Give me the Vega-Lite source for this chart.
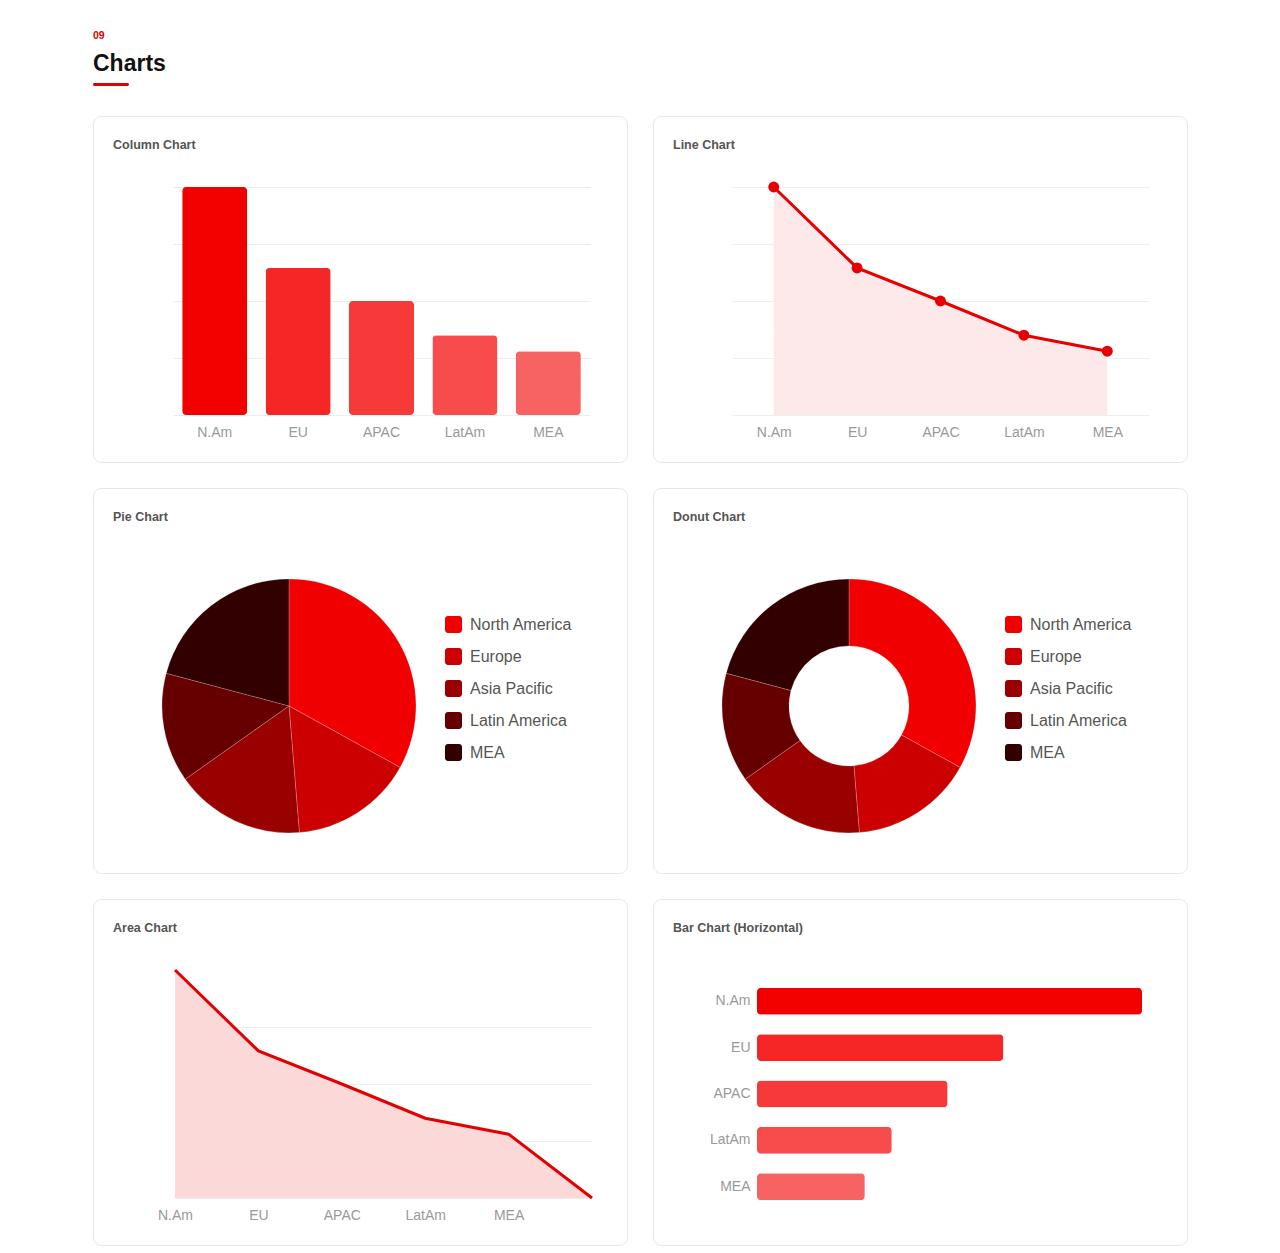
{
  "$schema": "https://vega.github.io/schema/vega-lite/v6.json",
  "background": "white",
  "padding": {"left": 92, "top": 30, "right": 20, "bottom": 4},
  "config": {
    "font": "Liberation Sans",
    "view": {"stroke": "#e8e8e8", "cornerRadius": 8, "fill": "white"},
    "axis": {"labelFont": "Liberation Sans", "labelFontSize": 14, "labelColor": "#999999", "gridColor": "#eeeeee", "gridWidth": 1, "domain": false, "ticks": false, "tickSize": 0, "title": null, "labelAngle": 0},
    "legend": {"labelFont": "Liberation Sans"}
  },
  "spacing": 29,
  "resolve": {"scale": {"color": "independent"}, "legend": {"color": "independent"}},
  "vconcat": [
    {
      "width": 36,
      "height": 3,
      "view": {"fill": "#e00000", "stroke": null, "cornerRadius": 1.5},
      "title": {"text": "09", "subtitle": "Charts", "anchor": "start", "frame": "group", "font": "Liberation Sans", "fontSize": 10.5, "fontWeight": "bold", "color": "#e00000", "subtitleFont": "Liberation Sans", "subtitleFontSize": 23, "subtitleFontWeight": "bold", "subtitleColor": "#111111", "subtitlePadding": 12, "offset": 7},
      "data": {"values": []},
      "mark": {"type": "rule"},
      "encoding": {}
    },
    {
      "spacing": 24,
      "resolve": {"scale": {"color": "independent"}, "legend": {"color": "independent"}},
      "vconcat": [
        {
          "spacing": 24,
          "resolve": {"scale": {"color": "independent"}, "legend": {"color": "independent"}},
          "hconcat": [
            {
              "width": 534,
              "height": 346,
              "title": {"text": "Column Chart", "anchor": "start", "frame": "group", "fontSize": 12.5, "fontWeight": "bold", "color": "#555555", "baseline": "alphabetic", "offset": -45, "dx": 20},
              "data": {"values": [
                {"region": "N.Am", "value": 100},
                {"region": "EU", "value": 64.5},
                {"region": "APAC", "value": 50},
                {"region": "LatAm", "value": 35},
                {"region": "MEA", "value": 28}
              ]},
              "mark": {"type": "bar", "cornerRadius": 4},
              "encoding": {
                "x": {"field": "region", "type": "nominal", "sort": null,
                  "scale": {"range": [80, 497], "paddingInner": 0.22, "paddingOuter": 0.11},
                  "axis": {"offset": -47, "labelPadding": 10, "grid": false}},
                "y": {"field": "value", "type": "quantitative",
                  "scale": {"domain": [0, 100], "nice": false, "range": [299, 71]},
                  "axis": {"labels": false, "grid": true, "values": [0, 25, 50, 75, 100]}},
                "color": {"field": "region", "type": "nominal", "sort": null,
                  "scale": {"domain": ["N.Am", "EU", "APAC", "LatAm", "MEA"], "range": ["#f20000", "#f52626", "#f63a3a", "#f74c4c", "#f76262"]},
                  "legend": null}
              }
            },
            {
              "width": 534,
              "height": 346,
              "title": {"text": "Line Chart", "anchor": "start", "frame": "group", "fontSize": 12.5, "fontWeight": "bold", "color": "#555555", "baseline": "alphabetic", "offset": -45, "dx": 20},
              "data": {"values": [
                {"region": "N.Am", "value": 100},
                {"region": "EU", "value": 64.5},
                {"region": "APAC", "value": 50},
                {"region": "LatAm", "value": 35},
                {"region": "MEA", "value": 28}
              ]},
              "encoding": {
                "x": {"field": "region", "type": "nominal", "sort": null,
                  "scale": {"type": "point", "range": [79, 496], "padding": 0.5},
                  "axis": {"offset": -47, "labelPadding": 10, "grid": false}},
                "y": {"field": "value", "type": "quantitative",
                  "scale": {"domain": [0, 100], "nice": false, "range": [299, 71]},
                  "axis": {"labels": false, "grid": true, "values": [0, 25, 50, 75, 100]}}
              },
              "layer": [
                {"mark": {"type": "area", "color": "#fde9e9"}},
                {"mark": {"type": "line", "color": "#e60000", "strokeWidth": 3}},
                {"mark": {"type": "point", "filled": true, "size": 120, "opacity": 1, "color": "#e60000"}}
              ]
            }
          ]
        },
        {
          "spacing": 24,
          "resolve": {"scale": {"color": "independent"}, "legend": {"color": "independent"}},
          "hconcat": [
            {
              "width": 534,
              "height": 385,
              "title": {"text": "Pie Chart", "anchor": "start", "frame": "group", "fontSize": 12.5, "fontWeight": "bold", "color": "#555555", "baseline": "alphabetic", "offset": -45, "dx": 20},
              "data": {"values": [
                {"region": "North America", "share": 38, "rank": 1},
                {"region": "Europe", "share": 18, "rank": 2},
                {"region": "Asia Pacific", "share": 19, "rank": 3},
                {"region": "Latin America", "share": 16, "rank": 4},
                {"region": "MEA", "share": 24, "rank": 5}
              ]},
              "mark": {"type": "arc", "outerRadius": 127, "stroke": "#ffffff", "strokeWidth": 0.5, "strokeOpacity": 0.4},
              "encoding": {
                "theta": {"field": "share", "type": "quantitative", "stack": true},
                "order": {"field": "rank", "type": "quantitative"},
                "x": {"datum": 0.367, "type": "quantitative", "scale": {"domain": [0, 1], "nice": false, "zero": false}, "axis": null},
                "y": {"datum": 0.566, "type": "quantitative", "scale": {"domain": [0, 1], "nice": false, "zero": false, "reverse": true}, "axis": null},
                "color": {"field": "region", "type": "nominal", "sort": null,
                  "scale": {"domain": ["North America", "Europe", "Asia Pacific", "Latin America", "MEA"], "range": ["#f00000", "#cc0000", "#990000", "#660000", "#330000"]},
                  "legend": {"title": null, "orient": "none", "legendX": 352, "legendY": 128, "padding": 0, "symbolType": "M-0.65,-1L0.65,-1A0.35,0.35 0 0 1 1,-0.65L1,0.65A0.35,0.35 0 0 1 0.65,1L-0.65,1A0.35,0.35 0 0 1 -1,0.65L-1,-0.65A0.35,0.35 0 0 1 -0.65,-1Z", "symbolSize": 289, "symbolStrokeWidth": 0, "symbolOpacity": 1, "labelFontSize": 16, "labelColor": "#555555", "labelOffset": 8, "rowPadding": 15, "labelLimit": 300}}
              }
            },
            {
              "width": 534,
              "height": 385,
              "title": {"text": "Donut Chart", "anchor": "start", "frame": "group", "fontSize": 12.5, "fontWeight": "bold", "color": "#555555", "baseline": "alphabetic", "offset": -45, "dx": 20},
              "data": {"values": [
                {"region": "North America", "share": 38, "rank": 1},
                {"region": "Europe", "share": 18, "rank": 2},
                {"region": "Asia Pacific", "share": 19, "rank": 3},
                {"region": "Latin America", "share": 16, "rank": 4},
                {"region": "MEA", "share": 24, "rank": 5}
              ]},
              "mark": {"type": "arc", "outerRadius": 127, "innerRadius": 60, "stroke": "#ffffff", "strokeWidth": 0.5, "strokeOpacity": 0.4},
              "encoding": {
                "theta": {"field": "share", "type": "quantitative", "stack": true},
                "order": {"field": "rank", "type": "quantitative"},
                "x": {"datum": 0.367, "type": "quantitative", "scale": {"domain": [0, 1], "nice": false, "zero": false}, "axis": null},
                "y": {"datum": 0.566, "type": "quantitative", "scale": {"domain": [0, 1], "nice": false, "zero": false, "reverse": true}, "axis": null},
                "color": {"field": "region", "type": "nominal", "sort": null,
                  "scale": {"domain": ["North America", "Europe", "Asia Pacific", "Latin America", "MEA"], "range": ["#f00000", "#cc0000", "#990000", "#660000", "#330000"]},
                  "legend": {"title": null, "orient": "none", "legendX": 352, "legendY": 128, "padding": 0, "symbolType": "M-0.65,-1L0.65,-1A0.35,0.35 0 0 1 1,-0.65L1,0.65A0.35,0.35 0 0 1 0.65,1L-0.65,1A0.35,0.35 0 0 1 -1,0.65L-1,-0.65A0.35,0.35 0 0 1 -0.65,-1Z", "symbolSize": 289, "symbolStrokeWidth": 0, "symbolOpacity": 1, "labelFontSize": 16, "labelColor": "#555555", "labelOffset": 8, "rowPadding": 15, "labelLimit": 300}}
              }
            }
          ]
        },
        {
          "spacing": 24,
          "resolve": {"scale": {"color": "independent"}, "legend": {"color": "independent"}},
          "hconcat": [
            {
              "width": 534,
              "height": 346,
              "title": {"text": "Area Chart", "anchor": "start", "frame": "group", "fontSize": 12.5, "fontWeight": "bold", "color": "#555555", "baseline": "alphabetic", "offset": -45, "dx": 20},
              "data": {"values": [
                {"region": "N.Am", "value": 100},
                {"region": "EU", "value": 64.5},
                {"region": "APAC", "value": 50},
                {"region": "LatAm", "value": 35},
                {"region": "MEA", "value": 28},
                {"region": "", "value": 0}
              ]},
              "encoding": {
                "x": {"field": "region", "type": "nominal", "sort": null,
                  "scale": {"type": "point", "range": [82, 499], "padding": 0},
                  "axis": {"offset": -47, "labelPadding": 10, "grid": false}},
                "y": {"field": "value", "type": "quantitative",
                  "scale": {"domain": [0, 100], "nice": false, "range": [299, 71]},
                  "axis": {"labels": false, "grid": true, "values": [0, 25, 50, 75]}}
              },
              "layer": [
                {"mark": {"type": "area", "color": "#fcd9d9"}},
                {"mark": {"type": "line", "color": "#e30000", "strokeWidth": 3}}
              ]
            },
            {
              "width": 534,
              "height": 346,
              "title": {"text": "Bar Chart (Horizontal)", "anchor": "start", "frame": "group", "fontSize": 12.5, "fontWeight": "bold", "color": "#555555", "baseline": "alphabetic", "offset": -45, "dx": 20},
              "data": {"values": [
                {"region": "N.Am", "value": 100},
                {"region": "EU", "value": 64},
                {"region": "APAC", "value": 49.5},
                {"region": "LatAm", "value": 35},
                {"region": "MEA", "value": 28}
              ]},
              "mark": {"type": "bar", "cornerRadius": 4},
              "encoding": {
                "y": {"field": "region", "type": "nominal", "sort": null,
                  "scale": {"range": [79, 311], "paddingInner": 0.42, "paddingOuter": 0.21},
                  "axis": {"offset": -104, "labelPadding": 7, "grid": false}},
                "x": {"field": "value", "type": "quantitative",
                  "scale": {"domain": [0, 100], "nice": false, "range": [104, 489]},
                  "axis": null},
                "color": {"field": "region", "type": "nominal", "sort": null,
                  "scale": {"domain": ["N.Am", "EU", "APAC", "LatAm", "MEA"], "range": ["#f20000", "#f52626", "#f63a3a", "#f74c4c", "#f76262"]},
                  "legend": null}
              }
            }
          ]
        }
      ]
    }
  ]
}
